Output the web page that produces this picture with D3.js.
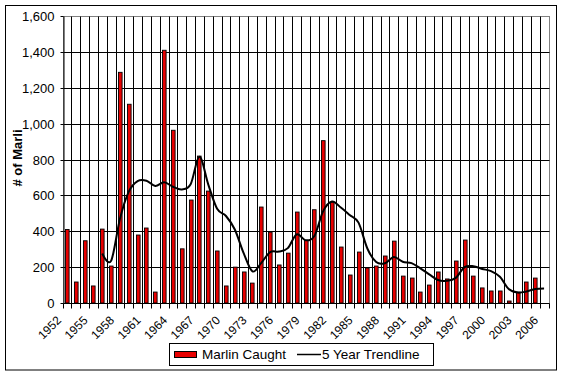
<!DOCTYPE html>
<html>
<head>
<meta charset="utf-8">
<script src="https://cdn.jsdelivr.net/npm/d3@7"></script>
<style>
body { margin: 0; background: #fff; }
text { font-family: "Liberation Sans", Arial, sans-serif; fill: #000; }
</style>
</head>
<body>
<div id="chart"></div>
<script>
var years = [1952,1953,1954,1955,1956,1957,1958,1959,1960,1961,1962,1963,1964,1965,
  1966,1967,1968,1969,1970,1971,1972,1973,1974,1975,1976,1977,1978,1979,1980,1981,
  1982,1983,1984,1985,1986,1987,1988,1989,1990,1991,1992,1993,1994,1995,1996,1997,
  1998,1999,2000,2001,2002,2003,2004,2005,2006];

// Marlin caught per year
var caught = [410,117,347,95,412,206,1286,1108,379,418,61,1409,963,302,
  574,819,624,290,95,200,173,111,535,395,212,278,507,349,520,905,
  562,312,156,284,195,206,262,345,150,139,61,100,173,134,234,351,
  150,84,67,67,11,61,117,139,null];

// 5 year trendline
var trend = [null,null,null,null,276,235,469,621,680,682,652,673,648,633,
  662,815,660,525,485,410,278,176,224,284,287,306,383,350,373,512,
  566,532,491,448,304,228,222,256,230,222,193,160,128,124,140,200,
  205,190,178,146,78,58,64,78,81];

var yearLabels = [1952,1955,1958,1961,1964,1967,1970,1973,1976,1979,1982,1985,
  1988,1991,1994,1997,2000,2003,2006];
var yTicks = [0,200,400,600,800,1000,1200,1400,1600];

var width = 563, height = 375;
var plot = {left: 62.5, right: 548.5, top: 16, bottom: 303};

var svg = d3.select("#chart").append("svg")
    .attr("width", width)
    .attr("height", height);

// outer frame
svg.append("rect")
    .attr("x", 5.5).attr("y", 5.5)
    .attr("width", 551).attr("height", 364.5)
    .attr("fill", "#fff")
    .attr("stroke", "#000");

var x = d3.scaleBand()
    .domain(years)
    .range([plot.left, plot.right]);

var y = d3.scaleLinear()
    .domain([0, 1600])
    .range([plot.bottom, plot.top]);

var bw = x.bandwidth();
function crisp(v) { return Math.round(v) + 0.5; }

// plot area border (grey)
svg.append("rect")
    .attr("x", crisp(plot.left)).attr("y", crisp(plot.top))
    .attr("width", crisp(plot.right) - crisp(plot.left))
    .attr("height", crisp(plot.bottom) - crisp(plot.top))
    .attr("fill", "#fff")
    .attr("stroke", "#808080");

// horizontal gridlines
svg.append("g").selectAll("line")
    .data(yTicks.filter(function(d) { return d > 0 && d < 1600; }))
  .enter().append("line")
    .attr("x1", crisp(plot.left)).attr("x2", crisp(plot.right))
    .attr("y1", function(d) { return crisp(y(d)); })
    .attr("y2", function(d) { return crisp(y(d)); })
    .attr("stroke", "#000");

// vertical gridlines between categories
svg.append("g").selectAll("line")
    .data(years.slice(1))
  .enter().append("line")
    .attr("x1", function(d) { return crisp(x(d)); })
    .attr("x2", function(d) { return crisp(x(d)); })
    .attr("y1", crisp(plot.top)).attr("y2", crisp(plot.bottom))
    .attr("stroke", "#000");

// bars
svg.append("g").selectAll("rect")
    .data(years.filter(function(d, i) { return caught[i] != null; }))
  .enter().append("rect")
    .attr("x", function(d) { return Math.round(x(d) + bw / 2 - 2) + 0.5; })
    .attr("width", 3.6)
    .attr("y", function(d) { return y(caught[years.indexOf(d)]); })
    .attr("height", function(d) { return plot.bottom - y(caught[years.indexOf(d)]); })
    .attr("fill", "#e80000")
    .attr("stroke", "#000")
    .attr("stroke-width", 0.9);

// trendline
var line = d3.line()
    .defined(function(d) { return d[1] != null; })
    .x(function(d) { return x(d[0]) + bw / 2; })
    .y(function(d) { return y(d[1]); })
    .curve(d3.curveCatmullRom.alpha(0));

svg.append("path")
    .datum(years.map(function(d, i) { return [d, trend[i]]; }))
    .attr("d", line)
    .attr("fill", "none")
    .attr("stroke", "#000")
    .attr("stroke-width", 2);

// y axis
var yAxis = d3.axisLeft(y)
    .tickValues(yTicks)
    .tickSize(3)
    .tickSizeOuter(0)
    .tickPadding(6)
    .tickFormat(d3.format(","));

var gy = svg.append("g")
    .attr("transform", "translate(" + crisp(plot.left) + ",0)")
    .call(yAxis);
gy.selectAll("text").style("font-size", "13px");
gy.selectAll("line, path").attr("stroke", "#000");
gy.selectAll(".tick").attr("transform", function(d) { return "translate(0," + crisp(y(d)) + ")"; });

// x axis line and ticks at category boundaries
svg.append("line")
    .attr("x1", crisp(plot.left)).attr("x2", crisp(plot.right))
    .attr("y1", crisp(plot.bottom)).attr("y2", crisp(plot.bottom))
    .attr("stroke", "#000");

svg.append("g").selectAll("line")
    .data(years.concat([null]))
  .enter().append("line")
    .attr("x1", function(d) { return crisp(d == null ? plot.right : x(d)); })
    .attr("x2", function(d) { return crisp(d == null ? plot.right : x(d)); })
    .attr("y1", crisp(plot.bottom)).attr("y2", crisp(plot.bottom) + 5)
    .attr("stroke", "#000");

svg.append("g").selectAll("text")
    .data(yearLabels)
  .enter().append("text")
    .attr("transform", function(d) {
      return "translate(" + (x(d) + bw / 2 - 5) + ",321) rotate(-45)";
    })
    .attr("text-anchor", "end")
    .style("font-size", "12px")
    .text(function(d) { return d; });

// y axis title
svg.append("text")
    .attr("transform", "translate(22,158) rotate(-90)")
    .attr("text-anchor", "middle")
    .style("font-size", "13px")
    .style("font-weight", "bold")
    .text("# of Marli");

// legend
var legend = svg.append("g");
legend.append("rect")
    .attr("x", 169.5).attr("y", 343.5)
    .attr("width", 264).attr("height", 22)
    .attr("fill", "#fff").attr("stroke", "#000");
legend.append("rect")
    .attr("x", 174.5).attr("y", 351.5)
    .attr("width", 22).attr("height", 6)
    .attr("fill", "#e80000").attr("stroke", "#000");
legend.append("text")
    .attr("x", 202).attr("y", 359)
    .style("font-size", "13.5px")
    .text("Marlin Caught");
legend.append("line")
    .attr("x1", 297).attr("x2", 321)
    .attr("y1", 354.5).attr("y2", 354.5)
    .attr("stroke", "#000").attr("stroke-width", 1.5);
legend.append("text")
    .attr("x", 322).attr("y", 359)
    .style("font-size", "13.5px")
    .text("5 Year Trendline");
</script>
</body>
</html>
